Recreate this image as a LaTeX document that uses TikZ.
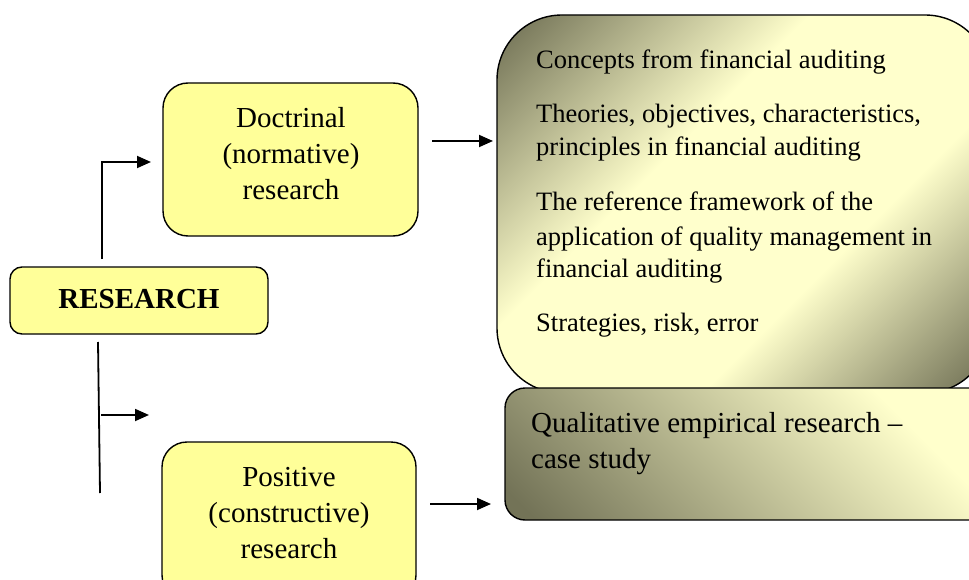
\documentclass[tikz,border=0pt]{standalone}
\usepackage{fontspec}
\setmainfont{Liberation Serif}
\usetikzlibrary{arrows.meta}
\definecolor{boxyellow}{HTML}{FFFF99}
\definecolor{olivedark}{HTML}{737357}
\definecolor{olivelight}{HTML}{FFFFCC}
\pgfdeclareverticalshading{bigshade}{100bp}{color(0bp)=(olivedark); color(16bp)=(olivedark); color(38bp)=(olivelight); color(60bp)=(olivelight); color(84bp)=(olivedark); color(100bp)=(olivedark)}
\pgfdeclareverticalshading{smallshade}{100bp}{color(0bp)=(olivedark); color(18bp)=(olivedark); color(72bp)=(olivelight); color(100bp)=(olivelight)}
\tikzset{
  yellowbox/.style={draw=black, line width=1.4pt, fill=boxyellow, inner sep=0pt},
  txt/.style={inner sep=0pt, anchor=base west, font=\fontsize{26.5}{33}\selectfont},
  qtxt/.style={inner sep=0pt, anchor=base west, font=\fontsize{29}{36}\selectfont},
  ctxt/.style={inner sep=0pt, anchor=base, font=\fontsize{29}{36}\selectfont},
  conn/.style={line width=1.8pt},
  arr/.style={line width=1.8pt, -{Triangle[length=14pt,width=12pt]}},
}
\begin{document}
\begin{tikzpicture}[x=1pt,y=-1pt]
\useasboundingbox (0,0) rectangle (969,580);
\clip (0,0) rectangle (969,580);
% big gradient box
\path[draw=black, line width=1.4pt, rounded corners=65pt, shading=bigshade, shading angle=45]
  (497,15) rectangle (990,393);
\node[inner sep=0pt] (big) at (743,204) {};
% bottom gradient box
\path[draw=black, line width=1.4pt, rounded corners=20pt, shading=smallshade, shading angle=-45]
  (505,388) rectangle (990,520);
\node[inner sep=0pt] (qual) at (747,454) {};
% yellow boxes
\draw[yellowbox, rounded corners=12pt] (10,267) rectangle (268,334);
\node[inner sep=0pt] (res) at (139,300) {};
\draw[yellowbox, rounded corners=25pt] (163,83) rectangle (418,236);
\node[inner sep=0pt] (doc) at (290,160) {};
\draw[yellowbox, rounded corners=25pt] (162,442) rectangle (416,600);
\node[inner sep=0pt] (pos) at (289,520) {};
% texts
\node[ctxt, font=\fontsize{29}{36}\selectfont\bfseries] (restxt) at (139,308) {RESEARCH};
\node[ctxt] (doc1) at (291,128) {Doctrinal};
\node[ctxt] (doc2) at (291,164) {(normative)};
\node[ctxt] (doc3) at (291,200) {research};
\node[ctxt] (pos1) at (289,486) {Positive};
\node[ctxt] (pos2) at (289,522) {(constructive)};
\node[ctxt] (pos3) at (289,558) {research};
\node[txt] (b1) at (536,69) {Concepts from financial auditing};
\node[txt] (b2) at (536,123) {Theories, objectives, characteristics,};
\node[txt] (b3) at (536,156) {principles in financial auditing};
\node[txt] (b4) at (536,211) {The reference framework of the};
\node[txt] (b5) at (536,245) {application of quality management in};
\node[txt] (b6) at (536,277) {financial auditing};
\node[txt] (b7) at (536,331) {Strategies, risk, error};
\node[qtxt] (q1) at (531,432) {Qualitative empirical research --};
\node[qtxt] (q2) at (531,468) {case study};
% connectors
\coordinate (t0) at (102,259);
\coordinate (t1) at (102,162);
\coordinate (t2) at (151,162);
\coordinate (d0) at (98,342);
\coordinate (d1) at (100,493);
\coordinate (m0) at (101,415);
\coordinate (m1) at (149,415);
\coordinate (a0) at (432,141);
\coordinate (a1) at (493,141);
\coordinate (c0) at (430,504);
\coordinate (c1) at (491,504);
\draw[arr] (t0) -- (t1) -- (t2);
\draw[conn] (d0) -- (d1);
\draw[arr] (m0) -- (m1);
\draw[arr] (a0) -- (a1);
\draw[arr] (c0) -- (c1);
\end{tikzpicture}
\end{document}
